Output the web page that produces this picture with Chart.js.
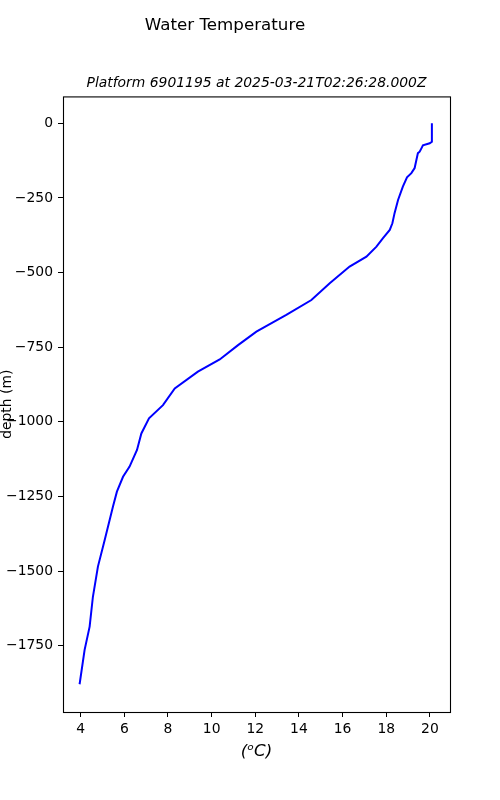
<!DOCTYPE html>
<html>
<head>
<meta charset="utf-8">
<script src="https://cdn.jsdelivr.net/npm/chart.js@4.4.1/dist/chart.umd.min.js"></script>
<style>
  html, body { margin: 0; padding: 0; background: #fff; }
</style>
</head>
<body>
<canvas id="chart" width="500" height="800"></canvas>
<script>
// profile, surface to bottom
const temperature = [
  20.09, 20.09, 19.99, 19.68, 19.61, 19.53, 19.45, 19.38, 19.30, 19.15,
  18.95, 18.76, 18.54, 18.38, 18.28, 18.16, 17.85, 17.55, 17.09, 16.32,
  15.41, 14.57, 13.42, 12.58, 12.05, 11.21, 10.37, 9.37, 8.31, 7.77,
  7.13, 6.78, 6.58, 6.24, 5.94, 5.66, 5.48, 5.10, 4.79, 4.56,
  4.41, 4.18, 3.95,
];
const depth = [
  0, -62, -67, -74, -84, -95, -100, -123, -150, -167,
  -181, -212, -257, -301, -335, -357, -385, -413, -447, -480,
  -536, -592, -642, -676, -698, -743, -791, -832, -888, -944,
  -988, -1039, -1094, -1150, -1184, -1234, -1284, -1396, -1485, -1586,
  -1686, -1764, -1879,
];
const xTicks = [4, 6, 8, 10, 12, 14, 16, 18, 20];
const yTicks = [0, -250, -500, -750, -1000, -1250, -1500, -1750];

Chart.defaults.font.family = 'DejaVu Sans';
Chart.defaults.color = '#000';

const frame = {
  id: 'frame',
  afterDatasetsDraw(chart) {
    const { ctx, chartArea: a } = chart;
    ctx.save();
    ctx.strokeStyle = '#000';
    ctx.lineWidth = 1.1;
    ctx.strokeRect(a.left + 0.5, a.top + 0.5, a.right - a.left, a.bottom - a.top);
    ctx.restore();
  },
};

const points = temperature.map((t, i) => ({ x: t, y: depth[i] }));

new Chart(document.getElementById('chart'), {
  type: 'scatter',
  data: {
    datasets: [{
      data: points,
      showLine: true,
      borderColor: '#0000ff',
      borderWidth: 2,
      pointRadius: 0,
      tension: 0,
    }],
  },
  options: {
    responsive: false,
    animation: false,
    layout: { padding: { right: 50 } },
    plugins: {
      legend: { display: false },
      tooltip: { enabled: false },
      title: {
        display: true,
        text: 'Water Temperature',
        font: { size: 16.7, weight: 'normal' },
        padding: { top: 15.5, bottom: 39.2 },
      },
      subtitle: {
        display: true,
        text: 'Platform 6901195 at 2025-03-21T02:26:28.000Z',
        fullSize: false,
        font: { size: 13.9, style: 'italic' },
        padding: { top: 0, bottom: 5 },
      },
    },
    scales: {
      x: {
        type: 'linear',
        min: 3.19,
        max: 20.92,
        afterFit: (s) => { s.height = 88; },
        afterBuildTicks: (s) => { s.ticks = xTicks.map((v) => ({ value: v })); },
        grid: { drawOnChartArea: false, tickLength: 5, color: '#000' },
        border: { display: false },
        ticks: { font: { size: 13.9 }, padding: 4, callback: (v) => String(v) },
        title: {
          display: true,
          text: '(ᵒC)',
          font: { size: 16.7, style: 'italic' },
          padding: { bottom: 38 },
        },
      },
      y: {
        type: 'linear',
        min: -1972,
        max: 90,
        afterFit: (s) => { s.width = 63; },
        afterBuildTicks: (s) => { s.ticks = yTicks.map((v) => ({ value: v })); },
        grid: { drawOnChartArea: false, tickLength: 5, color: '#000' },
        border: { display: false },
        ticks: { font: { size: 13.9 }, padding: 5, callback: (v) => String(v).replace('-', '\u2212') },
        title: {
          display: true,
          text: 'depth (m)',
          font: { size: 13.9, lineHeight: 1 },
          padding: { top: 0 },
        },
      },
    },
  },
  plugins: [frame],
});
</script>
</body>
</html>
